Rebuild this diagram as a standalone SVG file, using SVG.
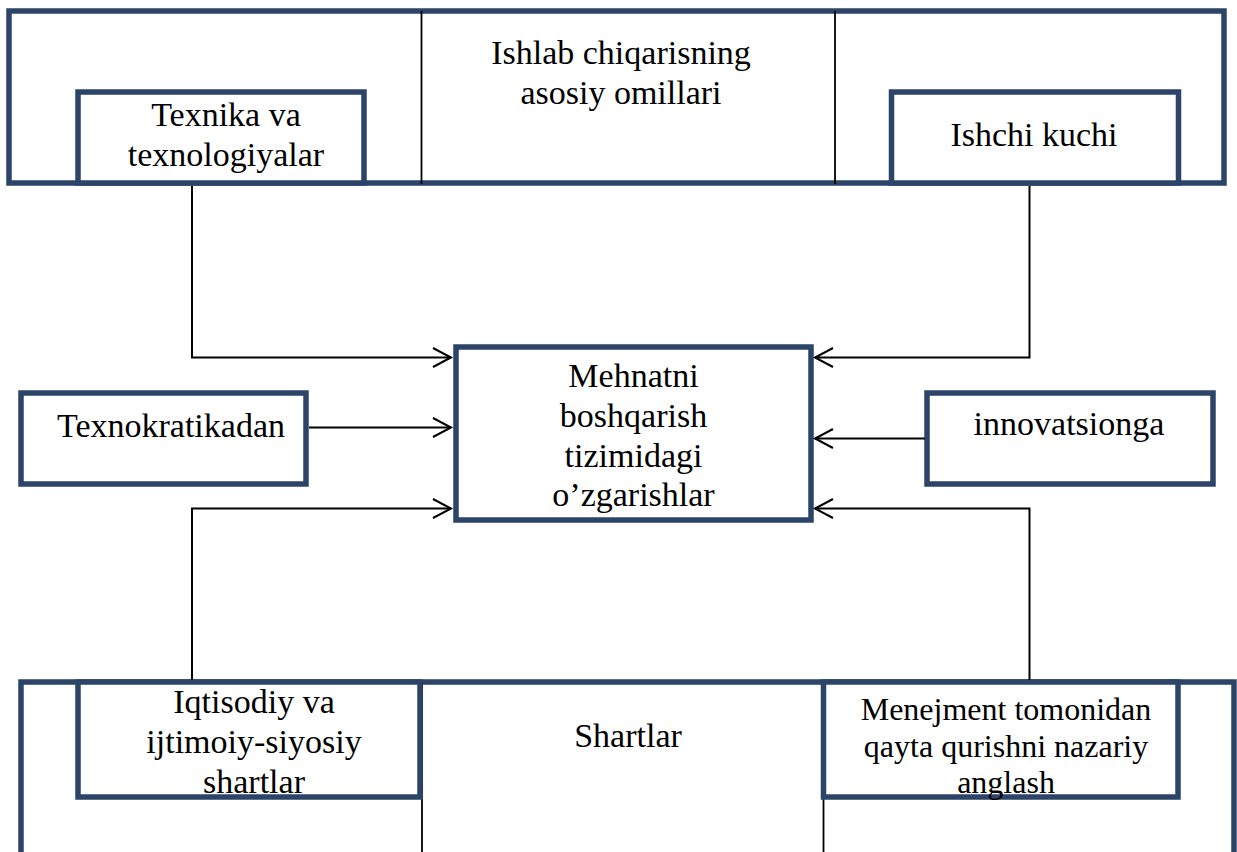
<svg xmlns="http://www.w3.org/2000/svg" width="1237" height="852" viewBox="0 0 1237 852">
  <style>
    .box { fill: #ffffff; stroke: #2b4468; stroke-width: 5.5; }
    .frame { fill: none; stroke: #2b4468; stroke-width: 5.5; }
    .div { stroke: #000000; stroke-width: 1.8; fill: none; }
    .link { stroke: #000000; stroke-width: 2; fill: none; }
    .t { font-family: "Liberation Serif", "Times New Roman", serif; font-size: 34px; fill: #000000; text-anchor: middle; }
    .ts { font-size: 32px; }
  </style>
  <defs>
    <marker id="arr" markerWidth="24" markerHeight="24" refX="19" refY="10.5" orient="auto" markerUnits="userSpaceOnUse">
      <path d="M1,1 L19,10.5 L1,20" fill="none" stroke="#000000" stroke-width="2"/>
    </marker>
  </defs>
  <rect width="1237" height="852" fill="#ffffff"/>

  <!-- top frame: production factors -->
  <g id="factors">
    <rect class="frame" x="9" y="11" width="1215" height="172"/>
    <line class="div" x1="421.5" y1="11" x2="421.5" y2="184"/>
    <line class="div" x1="835" y1="11" x2="835" y2="184"/>
    <text class="t" x="621" y="64">Ishlab chiqarisning</text>
    <text class="t" x="621" y="104">asosiy omillari</text>
  </g>
  <g id="technika">
    <rect class="box" x="78" y="92" width="286" height="91"/>
    <text class="t" x="226" y="126">Texnika va</text>
    <text class="t" x="226" y="166">texnologiyalar</text>
  </g>
  <g id="ishchi">
    <rect class="box" x="891.5" y="92" width="287" height="91"/>
    <text class="t" x="1034" y="146">Ishchi kuchi</text>
  </g>

  <!-- middle row -->
  <g id="texnokratika">
    <rect class="box" x="21" y="393" width="285" height="91"/>
    <text class="t" x="171" y="437">Texnokratikadan</text>
  </g>
  <g id="markaz">
    <rect class="box" x="456" y="347" width="355" height="173"/>
    <text class="t" x="633.5" y="387">Mehnatni</text>
    <text class="t" x="633.5" y="427">boshqarish</text>
    <text class="t" x="633.5" y="466.5">tizimidagi</text>
    <text class="t" x="633.5" y="506">o’zgarishlar</text>
  </g>
  <g id="innovatsiya">
    <rect class="box" x="927" y="393" width="286" height="91"/>
    <text class="t" x="1069" y="435">innovatsionga</text>
  </g>

  <!-- bottom frame: conditions -->
  <g id="shartlar">
    <rect class="frame" x="21" y="682" width="1213" height="230"/>
    <line class="div" x1="422" y1="682" x2="422" y2="852"/>
    <line class="div" x1="823.5" y1="682" x2="823.5" y2="852"/>
    <text class="t" x="628" y="747">Shartlar</text>
  </g>
  <g id="iqtisodiy">
    <rect class="box" x="78" y="682" width="342" height="115"/>
    <text class="t" x="254" y="713">Iqtisodiy va</text>
    <text class="t" x="254" y="753">ijtimoiy-siyosiy</text>
    <text class="t" x="254" y="793">shartlar</text>
  </g>
  <g id="menejment">
    <rect class="box" x="823.5" y="682" width="354.5" height="115"/>
    <text class="t ts" x="1006" y="720">Menejment tomonidan</text>
    <text class="t ts" x="1006" y="757">qayta qurishni nazariy</text>
    <text class="t ts" x="1006" y="793">anglash</text>
  </g>

  <!-- connectors -->
  <g id="connectors">
    <polyline class="link" points="192,186 192,357.5 451,357.5" marker-end="url(#arr)"/>
    <polyline class="link" points="1029.5,186 1029.5,357.5 815,357.5" marker-end="url(#arr)"/>
    <line class="link" x1="309" y1="427.5" x2="451" y2="427.5" marker-end="url(#arr)"/>
    <line class="link" x1="925" y1="438.5" x2="815" y2="438.5" marker-end="url(#arr)"/>
    <polyline class="link" points="192,680 192,508.5 451,508.5" marker-end="url(#arr)"/>
    <polyline class="link" points="1029.5,680 1029.5,508.5 815,508.5" marker-end="url(#arr)"/>
  </g>
</svg>
